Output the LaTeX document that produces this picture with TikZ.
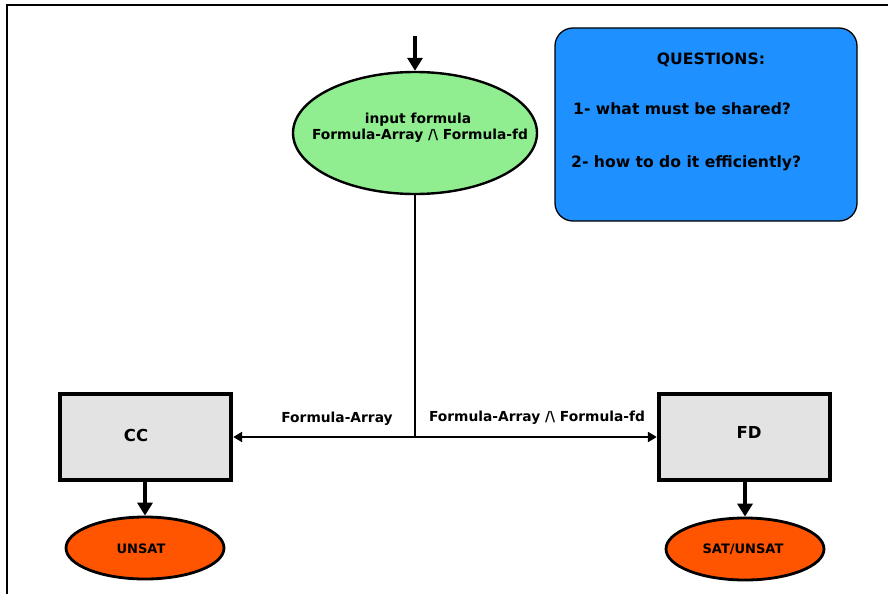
\documentclass[tikz,border=0pt]{standalone}
\usepackage{fontspec}
\setmainfont{DejaVu Sans}
\usetikzlibrary{arrows.meta,shapes.geometric}
\definecolor{formgreen}{HTML}{90EE90}
\definecolor{solvergray}{HTML}{E3E3E3}
\definecolor{resultorange}{HTML}{FF5500}
\definecolor{notebue}{HTML}{1E90FF}
\tikzset{
  lbl/.style={font=\fontsize{13.8}{16}\selectfont\bfseries, inner sep=0pt},
  solverbox/.style={draw, line width=4.4pt, fill=solvergray, minimum width=171pt, minimum height=86pt, inner sep=0pt},
  resultnode/.style={ellipse, draw, line width=2.8pt, fill=resultorange, minimum width=158pt, minimum height=62pt, inner sep=0pt},
  resultlbl/.style={font=\fontsize{13}{15}\selectfont\bfseries, inner sep=0pt},
  thickarrow/.style={line width=4pt, -{Triangle[width=15pt,length=13pt]}},
  thinarrow/.style={line width=2.4pt, -{Triangle[width=10pt,length=9pt]}},
  qtext/.style={font=\fontsize{15.6}{18}\selectfont\bfseries, inner sep=0pt}
}
\begin{document}
\begin{tikzpicture}[x=1pt,y=-1pt]
\useasboundingbox (0,0) rectangle (888,594);
% outer frame (top and left edges)
\draw[line width=1.5pt] (888,5) -- (7,5) -- (7,594);

% input formula
\node[ellipse, draw, line width=2.4pt, fill=formgreen, minimum width=244pt, minimum height=122pt, inner sep=0pt] (input) at (415,133) {};
\node[font=\fontsize{13.8}{16}\selectfont\bfseries, align=center, inner sep=0pt] (inputlbl) at (418,128)
      {input formula\\ \hspace*{4pt}Formula-Array /\textbackslash\ Formula-fd};
\coordinate (start) at (415,36);
\draw[thickarrow] (start) -- (input.north);

% solvers
\node[solverbox] (cc) at (145.5,437) {};
\node[font=\fontsize{16.5}{18}\selectfont\bfseries] (cclbl) at (136,435) {CC};
\node[solverbox] (fd) at (744.5,437) {};
\node[font=\fontsize{16.5}{18}\selectfont\bfseries] (fdlbl) at (749,432) {FD};

% results
\node[resultnode] (unsat) at (145,548) {};
\node[resultlbl] (unsatlbl) at (141,549) {UNSAT};
\node[resultnode] (sat) at (745,549) {};
\node[resultlbl] (satlbl) at (743,549) {SAT/UNSAT};
\draw[thickarrow] (cc.south -| unsat.north) -- (unsat.north);
\draw[thickarrow] (fd.south -| sat.north) -- (sat.north);

% splitting the formula
\coordinate (split) at (415,437);
\draw[line width=2.4pt] (input.south) -- (split);
\draw[thinarrow] (split) -- (cc.east);
\draw[thinarrow] (split) -- (fd.west);
\node[lbl] (lcc) at (337,419) {Formula-Array};
\node[lbl] (lfd) at (537,418) {Formula-Array /\textbackslash\ Formula-fd};

% questions box
\node[draw, line width=1.3pt, fill=notebue, rounded corners=18pt, minimum width=302pt, minimum height=193pt, inner sep=0pt] (qbox) at (706,124.5) {};
\node[qtext] (qtitle) at (711,60) {QUESTIONS:};
\node[qtext, anchor=west] (q1) at (573,109) {1- what must be shared?};
\node[qtext, anchor=west] (q2) at (571,163) {2- how to do it efficiently?};
\end{tikzpicture}
\end{document}
